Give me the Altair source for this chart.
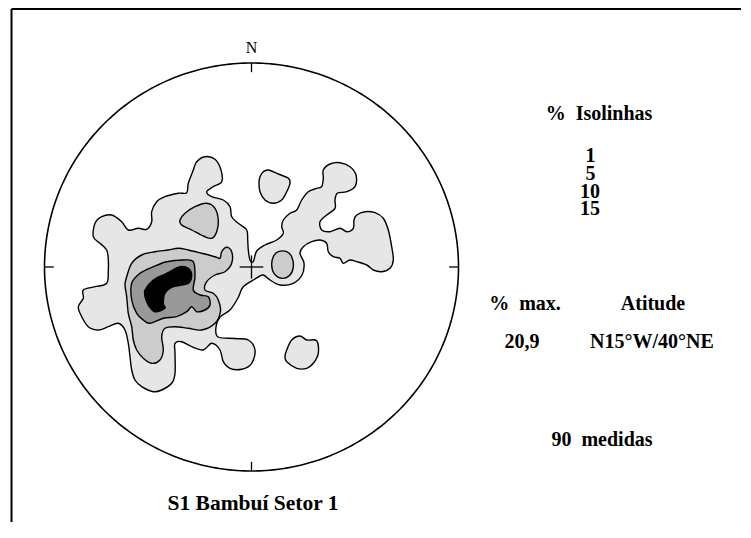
import altair as alt
import pandas as pd
import numpy as np

# Digitised stereonet (lower-hemisphere) density contours.
# Offsets from the net centre: east (+) / north (+), in digitising units;
# the net's primitive circle has radius RX (E-W) by RY (N-S) in these units.
RX, RY = 207.0, 204.0

# ---- 1 % contour -------------------------------------------------------
c1_main_e = [-158.2, -156.5, -149.8, -139.8, -129.8, -123.2, -113.2, -104.8, -99.8, -99.8,
             -94.8, -86.5, -73.2, -64.8, -63.2, -58.2, -54.8, -46.5, -36.5, -30.5,
             -29.8, -38.2, -44.8, -39.8, -28.2, -21.5, -19.8, -13.2, -4.8, -3.8,
             -3.2, -1.5, 1.8, 5.2, 13.5, 25.2, 31.8, 30.2, 31.8, 38.5,
             45.2, 50.2, 56.8, 65.2, 70.2, 71.8, 71.8, 78.5, 88.5, 98.5,
             104.5, 103.5, 95.2, 85.8, 83.5, 83.5, 75.2, 68.5, 70.2, 78.5,
             88.5, 95.2, 101.8, 102.5, 105.2, 113.5, 123.5, 131.8, 136.8, 140.2,
             141.8, 138.5, 130.2, 121.8, 115.2, 105.2, 98.5, 91.8, 88.5, 81.8,
             76.8, 75.2, 68.5, 60.2, 51.8, 48.5, 52.5, 50.5, 41.8, 28.5,
             18.5, 11.8, 6.8, 1.8, -8.5, -13.5, -21.5, -31.5, -35.5, -33.5,
             -16.5, -3.2, 3.5, 0.2, -9.8, -21.5, -28.2, -31.5, -39.8, -48.2,
             -59.8, -69.8, -76.5, -76.5, -76.5, -79.8, -89.8, -98.2, -109.8, -116.5,
             -119.8, -121.5, -123.2, -126.5, -133.2, -143.2, -153.2, -163.2, -169.8, -173.2,
             -168.2, -168.2, -156.5, -144.8, -143.2, -143.2, -144.8, -151.5]
c1_main_n = [30.3, 43.7, 50.3, 52.0, 45.3, 37.0, 38.7, 37.7, 45.3, 55.3,
             65.3, 70.3, 73.7, 74.3, 83.7, 97.0, 105.3, 110.3, 107.7, 97.0,
             85.3, 80.3, 75.3, 70.3, 67.0, 60.3, 50.3, 43.7, 37.0, 27.0,
             17.0, 7.0, 5.3, 16.0, 22.0, 27.0, 33.7, 40.3, 47.0, 53.7,
             57.0, 67.0, 75.3, 78.7, 80.3, 88.7, 97.0, 103.0, 104.3, 100.3,
             92.0, 80.3, 75.3, 73.7, 67.0, 58.7, 52.0, 45.3, 37.0, 35.3,
             38.7, 35.3, 38.7, 47.0, 52.0, 55.3, 54.3, 48.7, 37.0, 20.3,
             7.0, -1.3, -4.7, -3.0, 2.0, 5.3, 7.0, 3.7, 8.7, 10.3,
             15.3, 23.7, 27.0, 25.3, 20.3, 13.7, 4.0, -8.0, -16.3, -18.0,
             -13.0, -8.0, -10.0, -13.0, -20.0, -31.0, -43.0, -50.0, -60.0, -70.0,
             -71.5, -73.0, -83.0, -96.3, -102.3, -101.3, -94.7, -83.0, -76.3, -83.0,
             -79.7, -74.7, -76.3, -86.3, -106.3, -116.3, -123.0, -124.7, -119.7, -113.0,
             -103.0, -89.7, -76.3, -63.0, -56.3, -59.7, -63.0, -59.7, -49.7, -39.7,
             -31.3, -23.0, -19.7, -16.3, -3.0, 7.0, 17.0, 23.7]
c1_north_e = [8.5, 11.8, 16.8, 26.8, 36.8, 38.5, 35.2, 30.2, 21.8, 13.5, 8.5, 7.5]
c1_north_n = [90.3, 95.3, 97.0, 93.0, 88.7, 83.7, 75.3, 67.0, 63.7, 67.0, 75.3, 83.7]
c1_south_e = [35.2, 40.2, 48.5, 55.2, 65.2, 66.8, 61.8, 55.2, 45.2, 35.2, 33.5]
c1_south_n = [-83.0, -73.0, -69.0, -73.0, -73.7, -86.3, -96.3, -101.3, -101.3, -94.7, -89.7]

# ---- 5 % contour -------------------------------------------------------
c5_core_e = [-124.8, -119.8, -109.8, -96.5, -83.2, -73.2, -63.2, -49.8, -36.5, -31.5,
             -29.8, -24.8, -19.8, -19.8, -26.5, -36.5, -44.8, -46.5, -38.2, -33.2,
             -31.0, -36.5, -49.8, -63.2, -76.5, -86.5, -89.8, -88.2, -91.5, -99.8,
             -108.2, -114.8, -118.2, -119.8, -123.2, -124.8, -126.5]
c5_core_n = [-9.7, 3.7, 12.0, 15.3, 17.0, 18.7, 17.0, 13.7, 10.3, 8.7,
             15.3, 19.7, 15.3, 3.7, -4.7, -8.0, -14.7, -23.0, -26.3, -33.0,
             -44.0, -56.3, -63.0, -61.3, -59.7, -61.3, -69.7, -83.0, -93.0, -96.3,
             -91.3, -83.0, -73.0, -59.7, -46.3, -29.7, -18.0]
c5_nw_e = [-71.5, -66.5, -56.5, -44.8, -36.5, -33.2, -34.8, -39.8, -48.2, -59.8, -69.8]
c5_nw_n = [47.0, 53.7, 60.3, 63.7, 58.7, 47.0, 35.3, 28.7, 31.0, 37.0, 42.0]
c5_e_e = [21.8, 26.8, 35.2, 40.2, 41.8, 38.5, 30.2, 22.5, 20.2]
c5_e_n = [10.3, 15.3, 15.3, 10.3, 0.3, -8.0, -11.3, -6.3, 2.0]

# ---- 10 % contour ------------------------------------------------------
c10_e = [-119.8, -111.5, -98.2, -84.8, -68.2, -58.2, -56.5, -58.2, -51.5, -43.2,
         -41.5, -46.5, -54.8, -59.8, -64.8, -74.8, -88.2, -101.5, -108.2, -114.8, -119.8]
c10_n = [-16.3, -6.3, 0.3, 5.3, 7.0, 5.3, -9.7, -23.0, -28.0, -29.7,
         -38.0, -43.0, -44.7, -39.7, -44.7, -49.7, -51.3, -56.3, -53.0, -46.3, -33.0]

# ---- 15 % contour ------------------------------------------------------
c15_e = [-106.5, -98.2, -84.8, -71.5, -63.2, -59.8, -63.2, -78.2, -86.5, -88.2,
         -86.5, -96.5, -103.2, -106.5]
c15_n = [-23.0, -13.0, -6.3, 0.3, -1.3, -8.0, -16.3, -19.7, -26.3, -36.3,
         -41.3, -44.7, -38.0, -29.7]

levels = ["1", "5", "10", "15"]
level_fill = ["#e6e6e6", "#cccccc", "#999999", "#000000"]
polygons = {
    "1": [("c1_main", c1_main_e, c1_main_n), ("c1_north", c1_north_e, c1_north_n),
          ("c1_south", c1_south_e, c1_south_n)],
    "5": [("c5_core", c5_core_e, c5_core_n), ("c5_nw", c5_nw_e, c5_nw_n),
          ("c5_e", c5_e_e, c5_e_n)],
    "10": [("c10", c10_e, c10_n)],
    "15": [("c15", c15_e, c15_n)],
}

# ---- text -------------------------------------------------------------
legend_text = ["%\u00a0 Isolinhas", "1", "5", "10", "15", "%\u00a0 max.", "Atitude",
               "20,9", "N15°W/40°NE", "90\u00a0 medidas"]
legend_e = [347.5, 339.0, 339.0, 338.5, 338.5, 273.5, 401.5, 270.5, 400.5, 350.5]
legend_n = [147.0, 105.0, 87.5, 69.5, 52.0, -43.0, -43.0, -81.0, -81.0, -179.0]
title_text = "S1 Bambuí Setor 1"
title_e, title_n = 1.5, -243.0
north_label = "N"
north_e, north_n = 0.0, 214.5

# frame of the figure (left and top edges), digitising units
frame_e, frame_n = -240.0, 258.0

# ---------------------------------------------------------------------
W, H = 733, 514
x_dom = [(-243.5) / RX, (W - 243.5) / RX]
y_dom = [(259.0 - H) / RY, 259.0 / RY]
xs = alt.Scale(domain=x_dom, nice=False, zero=False)
ys = alt.Scale(domain=y_dom, nice=False, zero=False)


def X(f):
    return alt.X(f, type="quantitative", scale=xs, axis=None)


def Y(f):
    return alt.Y(f, type="quantitative", scale=ys, axis=None)


layers = []
for lev, fill in zip(levels, level_fill):
    rows = []
    for name, es, ns in polygons[lev]:
        for i, (e, n) in enumerate(zip(es, ns)):
            rows.append({"poly": name, "i": i, "x": e / RX, "y": n / RY})
    df = pd.DataFrame(rows)
    layers.append(
        alt.Chart(df).mark_line(interpolate="cardinal-closed", fill=fill, stroke="black",
                                strokeWidth=1.4, strokeJoin="round")
        .encode(x=X("x"), y=Y("y"), detail="poly:N", order="i:Q")
    )

# primitive circle of the net
t = np.linspace(0, 2 * np.pi, 361)
circle = pd.DataFrame({"i": np.arange(361), "x": np.cos(t), "y": np.sin(t)})
layers.append(
    alt.Chart(circle).mark_line(stroke="black", strokeWidth=1.6)
    .encode(x=X("x"), y=Y("y"), order="i:Q")
)

# N/S/E/W ticks and centre cross (net units)
tk = 0.045
cr = 0.057
ticks = pd.DataFrame({
    "x": [0, 0, -1, 1, -cr, 0],
    "y": [1, -1, 0, 0, 0, -cr],
    "x2": [0, 0, -1 + tk, 1 - tk, cr, 0],
    "y2": [1 - tk, -1 + tk, 0, 0, 0, cr],
})
layers.append(
    alt.Chart(ticks).mark_rule(color="black", strokeWidth=1.3)
    .encode(x=X("x"), y=Y("y"), x2="x2:Q", y2="y2:Q")
)

# figure frame
fx, fy = frame_e / RX, frame_n / RY
frame = pd.DataFrame({
    "x": [fx, fx], "y": [fy, fy],
    "x2": [x_dom[1], fx], "y2": [fy, y_dom[0]],
})
layers.append(
    alt.Chart(frame).mark_rule(color="black", strokeWidth=2)
    .encode(x=X("x"), y=Y("y"), x2="x2:Q", y2="y2:Q")
)

# texts
txt = pd.DataFrame({"t": legend_text,
                    "x": [e / RX for e in legend_e],
                    "y": [n / RY for n in legend_n]})
layers.append(
    alt.Chart(txt).mark_text(font="Liberation Serif", fontWeight="bold", fontSize=20,
                             align="center", baseline="alphabetic", color="black")
    .encode(x=X("x"), y=Y("y"), text="t:N")
)
ttxt = pd.DataFrame({"t": [title_text], "x": [title_e / RX], "y": [title_n / RY]})
layers.append(
    alt.Chart(ttxt).mark_text(font="Liberation Serif", fontWeight="bold", fontSize=21.5,
                              align="center", baseline="alphabetic", color="black")
    .encode(x=X("x"), y=Y("y"), text="t:N")
)
ntxt = pd.DataFrame({"t": [north_label], "x": [north_e / RX], "y": [north_n / RY]})
layers.append(
    alt.Chart(ntxt).mark_text(font="Liberation Serif", fontSize=16,
                              align="center", baseline="alphabetic", color="black")
    .encode(x=X("x"), y=Y("y"), text="t:N")
)

chart = alt.layer(*layers).properties(
    width=W, height=H, padding=0,
    autosize=alt.AutoSizeParams(type="none"),
    background="white",
).configure_view(stroke=None)

chart.save("out.html", embed_options={"renderer": "svg", "actions": False})
